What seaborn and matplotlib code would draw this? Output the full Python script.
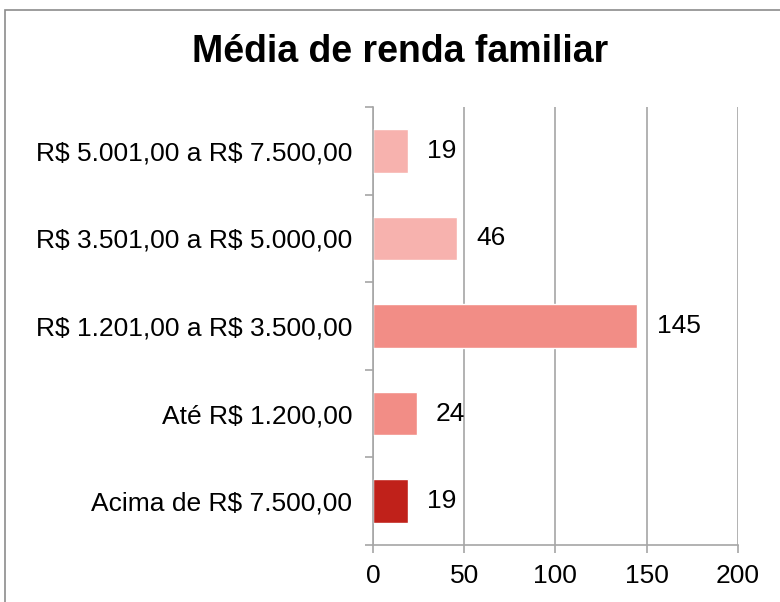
import pandas as pd
import matplotlib.pyplot as plt
import seaborn as sns
from matplotlib.patches import Rectangle
from matplotlib.ticker import FixedLocator

# Data (top to bottom as shown)
faixas = ['R$ 5.001,00 a R$ 7.500,00', 'R$ 3.501,00 a R$ 5.000,00',
          'R$ 1.201,00 a R$ 3.500,00', 'Até R$ 1.200,00', 'Acima de R$ 7.500,00']
valores = [19, 46, 145, 24, 19]
cores = ['#F7B2AE', '#F7B2AE', '#F28D86', '#F28D86', '#C0211A']

df = pd.DataFrame({'faixa': faixas, 'valor': valores})

sns.set_style('white')
plt.rcParams['font.family'] = ['Liberation Sans', 'DejaVu Sans']
plt.rcParams['text.parse_math'] = False
plt.rcParams['text.color'] = 'black'
plt.rcParams['xtick.labelcolor'] = 'black'
plt.rcParams['ytick.labelcolor'] = 'black'

fig = plt.figure(figsize=(7.8, 6.02), dpi=100)
ax = fig.add_axes([0.478, 0.095, 0.468, 0.727])

sns.barplot(data=df, x='valor', y='faixa', hue='faixa', palette=cores,
            order=faixas, hue_order=faixas, orient='h', width=0.5,
            legend=False, ax=ax, saturation=1)

ax.set_xlim(0, 200)
ax.set_ylim(4.5, -0.5)
ax.set_xticks([0, 50, 100, 150, 200])
ax.xaxis.grid(True, color='#A6A6A6', linewidth=1.2)
ax.set_axisbelow(True)
ax.set_xlabel('')
ax.set_ylabel('')

for s in ['top', 'right']:
    ax.spines[s].set_visible(False)
for s in ['left', 'bottom']:
    ax.spines[s].set_color('#A6A6A6')
    ax.spines[s].set_linewidth(1.2)

ax.tick_params(axis='x', labelsize=19, length=6, color='#A6A6A6', width=1.2,
               direction='out', bottom=True, pad=8)
ax.tick_params(axis='y', which='major', labelsize=19, length=0, pad=15)
ax.yaxis.set_minor_locator(FixedLocator([-0.5, 0.5, 1.5, 2.5, 3.5, 4.5]))
ax.tick_params(axis='y', which='minor', length=6, color='#A6A6A6', width=1.2,
               direction='out', left=True)

for i, v in enumerate(valores):
    ax.annotate(str(v), xy=(v, i), xytext=(14, 0), textcoords='offset points',
                va='center', ha='left', fontsize=19)

fig.text(0.513, 0.914, 'Média de renda familiar', ha='center', va='center',
         fontsize=27, fontweight='bold')

fig.patches.append(Rectangle((5 / 780, -0.1), 1.2, 1 - 10 / 602 + 0.1,
                             transform=fig.transFigure, fill=False,
                             edgecolor='#8C8C8C', linewidth=1.2))

fig.savefig('out.png', dpi=100)
